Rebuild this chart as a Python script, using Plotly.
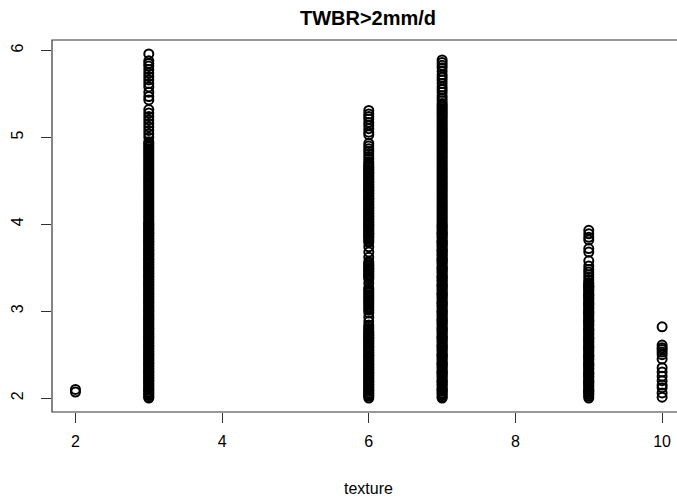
import plotly.graph_objects as go

# texture classes (x) and TWBR values (y)
tex2 = [2.07, 2.10]

tex3 = [2.00, 2.01, 2.03, 2.04, 2.06, 2.07, 2.09,
        2.10, 2.11, 2.13, 2.14, 2.16, 2.17, 2.19,
        2.20, 2.21, 2.23, 2.24, 2.26, 2.27, 2.29,
        2.30, 2.31, 2.33, 2.34, 2.36, 2.37, 2.39,
        2.40, 2.41, 2.43, 2.44, 2.46, 2.47, 2.49,
        2.50, 2.51, 2.53, 2.54, 2.56, 2.57, 2.59,
        2.60, 2.61, 2.63, 2.64, 2.66, 2.67, 2.69,
        2.70, 2.71, 2.73, 2.74, 2.76, 2.77, 2.79,
        2.80, 2.81, 2.83, 2.84, 2.86, 2.87, 2.89,
        2.90, 2.91, 2.93, 2.94, 2.96, 2.97, 2.99,
        3.00, 3.01, 3.03, 3.04, 3.06, 3.07, 3.09,
        3.10, 3.11, 3.13, 3.14, 3.16, 3.17, 3.19,
        3.20, 3.21, 3.23, 3.24, 3.26, 3.27, 3.29,
        3.30, 3.31, 3.33, 3.34, 3.36, 3.37, 3.39,
        3.40, 3.41, 3.43, 3.44, 3.46, 3.47, 3.49,
        3.50, 3.51, 3.53, 3.54, 3.56, 3.57, 3.59,
        3.60, 3.61, 3.63, 3.64, 3.66, 3.67, 3.69,
        3.70, 3.71, 3.73, 3.74, 3.76, 3.77, 3.79,
        3.80, 3.81, 3.83, 3.84, 3.86, 3.87, 3.89,
        3.90, 3.91, 3.93, 3.94, 3.96, 3.97, 3.99,
        4.00, 4.01, 4.03, 4.05, 4.07, 4.09, 4.11, 4.13, 4.15, 4.17, 4.19,
        4.21, 4.23, 4.25, 4.27, 4.29, 4.31, 4.33, 4.35, 4.37, 4.39,
        4.41, 4.43, 4.45, 4.47, 4.49, 4.51, 4.53, 4.55, 4.57, 4.59,
        4.61, 4.63, 4.65, 4.67, 4.69, 4.71, 4.73, 4.75, 4.77, 4.79,
        4.81, 4.83, 4.85, 4.87, 4.89, 4.91, 4.93, 4.95,
        5.00, 5.04, 5.08, 5.12, 5.16, 5.20, 5.24, 5.28, 5.32, 5.43, 5.47,
        5.52, 5.58, 5.62, 5.66, 5.70, 5.74, 5.78, 5.82, 5.85, 5.88, 5.96]

tex6 = [2.00, 2.02, 2.03, 2.05, 2.06, 2.08, 2.09,
        2.10, 2.12, 2.13, 2.15, 2.16, 2.18, 2.19,
        2.20, 2.22, 2.23, 2.25, 2.26, 2.28, 2.29,
        2.30, 2.32, 2.33, 2.35, 2.36, 2.38, 2.39,
        2.40, 2.42, 2.43, 2.45, 2.46, 2.48, 2.49,
        2.50, 2.52, 2.53, 2.55, 2.56, 2.58, 2.59,
        2.60, 2.62, 2.63, 2.65, 2.66, 2.68, 2.69,
        2.70, 2.72, 2.73, 2.75, 2.76, 2.78, 2.80,
        2.82, 2.84, 2.88, 2.93, 2.98, 3.01, 3.03, 3.05, 3.07, 3.09,
        3.11, 3.13, 3.15, 3.17, 3.19, 3.21, 3.23, 3.25, 3.27, 3.32, 3.37,
        3.39, 3.40, 3.42, 3.43, 3.45, 3.46, 3.48, 3.49,
        3.50, 3.52, 3.53, 3.55, 3.57, 3.62, 3.68, 3.74, 3.79, 3.81, 3.83,
        3.85, 3.86, 3.88, 3.89,
        3.90, 3.92, 3.93, 3.95, 3.96, 3.98, 3.99,
        4.00, 4.02, 4.03, 4.05, 4.06, 4.08, 4.09,
        4.10, 4.12, 4.13, 4.15, 4.16, 4.18, 4.19,
        4.20, 4.22, 4.23, 4.25, 4.26, 4.28, 4.29,
        4.30, 4.32, 4.33, 4.35, 4.36, 4.38, 4.39,
        4.40, 4.42, 4.43, 4.45, 4.46, 4.48, 4.49,
        4.50, 4.52, 4.53, 4.55, 4.56, 4.58, 4.59,
        4.60, 4.62, 4.63, 4.65, 4.66, 4.68, 4.70,
        4.72, 4.75, 4.78, 4.81, 4.84, 4.87, 4.90, 4.93,
        5.03, 5.06, 5.10, 5.14, 5.17, 5.21, 5.24, 5.27, 5.31]

tex7 = [2.00, 2.01, 2.03, 2.05, 2.06, 2.08, 2.09,
        2.10, 2.11, 2.13, 2.15, 2.16, 2.18, 2.19,
        2.20, 2.21, 2.23, 2.25, 2.26, 2.28, 2.29,
        2.30, 2.31, 2.33, 2.35, 2.36, 2.38, 2.39,
        2.40, 2.41, 2.43, 2.45, 2.46, 2.48, 2.49,
        2.50, 2.51, 2.53, 2.55, 2.56, 2.58, 2.59,
        2.60, 2.61, 2.63, 2.65, 2.66, 2.68, 2.69,
        2.70, 2.71, 2.73, 2.75, 2.76, 2.78, 2.79,
        2.80, 2.81, 2.83, 2.85, 2.86, 2.88, 2.89,
        2.90, 2.91, 2.93, 2.95, 2.96, 2.98, 2.99,
        3.00, 3.01, 3.03, 3.05, 3.06, 3.08, 3.09,
        3.10, 3.11, 3.13, 3.15, 3.16, 3.18, 3.19,
        3.20, 3.21, 3.23, 3.25, 3.26, 3.28, 3.29,
        3.30, 3.31, 3.33, 3.35, 3.36, 3.38, 3.39,
        3.40, 3.41, 3.43, 3.45, 3.46, 3.48, 3.49,
        3.50, 3.51, 3.53, 3.55, 3.56, 3.58, 3.59,
        3.60, 3.61, 3.63, 3.65, 3.66, 3.68, 3.69,
        3.70, 3.71, 3.73, 3.75, 3.76, 3.78, 3.79,
        3.80, 3.81, 3.83, 3.85, 3.86, 3.88, 3.89,
        3.90, 3.91, 3.93, 3.95, 3.96, 3.98, 3.99,
        4.01, 4.03, 4.05, 4.07, 4.09, 4.11, 4.13, 4.15, 4.17, 4.19,
        4.21, 4.23, 4.25, 4.27, 4.29, 4.31, 4.33, 4.35, 4.37, 4.39,
        4.41, 4.43, 4.45, 4.47, 4.49, 4.51, 4.53, 4.55, 4.57, 4.59,
        4.61, 4.63, 4.65, 4.67, 4.69, 4.71, 4.73, 4.75, 4.77, 4.79,
        4.81, 4.83, 4.85, 4.87, 4.89, 4.91, 4.93, 4.95, 4.97, 4.99,
        5.01, 5.03, 5.05, 5.07, 5.09, 5.11, 5.13, 5.15, 5.17, 5.19,
        5.21, 5.23, 5.25, 5.27, 5.29, 5.31, 5.33, 5.35, 5.37, 5.39,
        5.42, 5.45, 5.48, 5.52, 5.55, 5.58, 5.62, 5.66, 5.69, 5.72,
        5.76, 5.80, 5.83, 5.86, 5.89]

tex9 = [2.00, 2.02, 2.04, 2.05, 2.07, 2.08, 2.09,
        2.10, 2.12, 2.14, 2.15, 2.17, 2.18, 2.19,
        2.20, 2.22, 2.24, 2.25, 2.27, 2.28, 2.29,
        2.30, 2.32, 2.34, 2.35, 2.37, 2.38, 2.39,
        2.40, 2.42, 2.44, 2.45, 2.47, 2.48, 2.49,
        2.50, 2.52, 2.54, 2.55, 2.57, 2.58, 2.59,
        2.60, 2.62, 2.64, 2.65, 2.67, 2.68, 2.69,
        2.70, 2.72, 2.74, 2.75, 2.77, 2.78, 2.79,
        2.80, 2.82, 2.84, 2.85, 2.87, 2.88, 2.89,
        2.90, 2.92, 2.94, 2.95, 2.97, 2.98, 2.99,
        3.00, 3.02, 3.04, 3.05, 3.07, 3.08, 3.09,
        3.10, 3.12, 3.14, 3.15, 3.17, 3.18, 3.19,
        3.20, 3.22, 3.24, 3.25, 3.27, 3.28, 3.29,
        3.30, 3.32, 3.33, 3.36, 3.39, 3.42, 3.45,
        3.48, 3.52, 3.58, 3.68, 3.72, 3.82, 3.85, 3.89, 3.93]

tex10 = [2.01, 2.06, 2.12, 2.15, 2.20, 2.25, 2.30, 2.35, 2.45, 2.50,
         2.53, 2.56, 2.58, 2.61, 2.82]

series = [(2, tex2), (3, tex3), (6, tex6), (7, tex7), (9, tex9), (10, tex10)]

x_ticks = [2, 4, 6, 8, 10]
y_ticks = [2, 3, 4, 5, 6]

xs, ys = [], []
for t, vals in series:
    xs += [t] * len(vals)
    ys += vals

FONT = "Liberation Sans, Arial, sans-serif"

fig = go.Figure(go.Scatter(
    x=xs, y=ys, mode="markers",
    marker=dict(symbol="circle-open", size=9, color="black",
                line=dict(width=2.0)),
    hoverinfo="x+y", showlegend=False,
))

fig.update_layout(
    width=677, height=500,
    margin=dict(l=52, r=0, t=40, b=88),
    paper_bgcolor="white", plot_bgcolor="white",
    font=dict(family=FONT, size=16, color="black"),
    title=dict(text="TWBR>2mm/d", x=368 / 677, xref="container", xanchor="center",
               y=1 - 18 / 500, yref="container", yanchor="middle",
               font=dict(family=FONT, size=20, color="black", weight="bold")),
    xaxis=dict(range=[1.68, 10.203], tickvals=x_ticks, ticktext=[str(v) for v in x_ticks],
               showgrid=False, zeroline=False, showline=False,
               ticks="outside", ticklen=10, tickwidth=1, tickcolor="#333",
               ticklabelstandoff=5, tickfont=dict(size=16)),
    yaxis=dict(range=[1.84, 6.12], tickvals=y_ticks, ticktext=[str(v) for v in y_ticks],
               showgrid=False, zeroline=False, showline=False,
               ticks="outside", ticklen=10, tickwidth=1, tickcolor="#333",
               tickangle=-90, ticklabelstandoff=12, tickfont=dict(size=16)),
    shapes=[dict(type="rect", xref="paper", yref="paper", x0=0, x1=1.05, y0=0, y1=1,
                 line=dict(color="#333", width=1.2), fillcolor="rgba(0,0,0,0)",
                 layer="above")],
    annotations=[dict(text="texture", xref="paper", yref="paper",
                      x=(368 - 52) / 625, y=(412 - 488) / 372,
                      xanchor="center", yanchor="middle", showarrow=False,
                      font=dict(family=FONT, size=16, color="black"))],
)

fig.write_html("out.html")
